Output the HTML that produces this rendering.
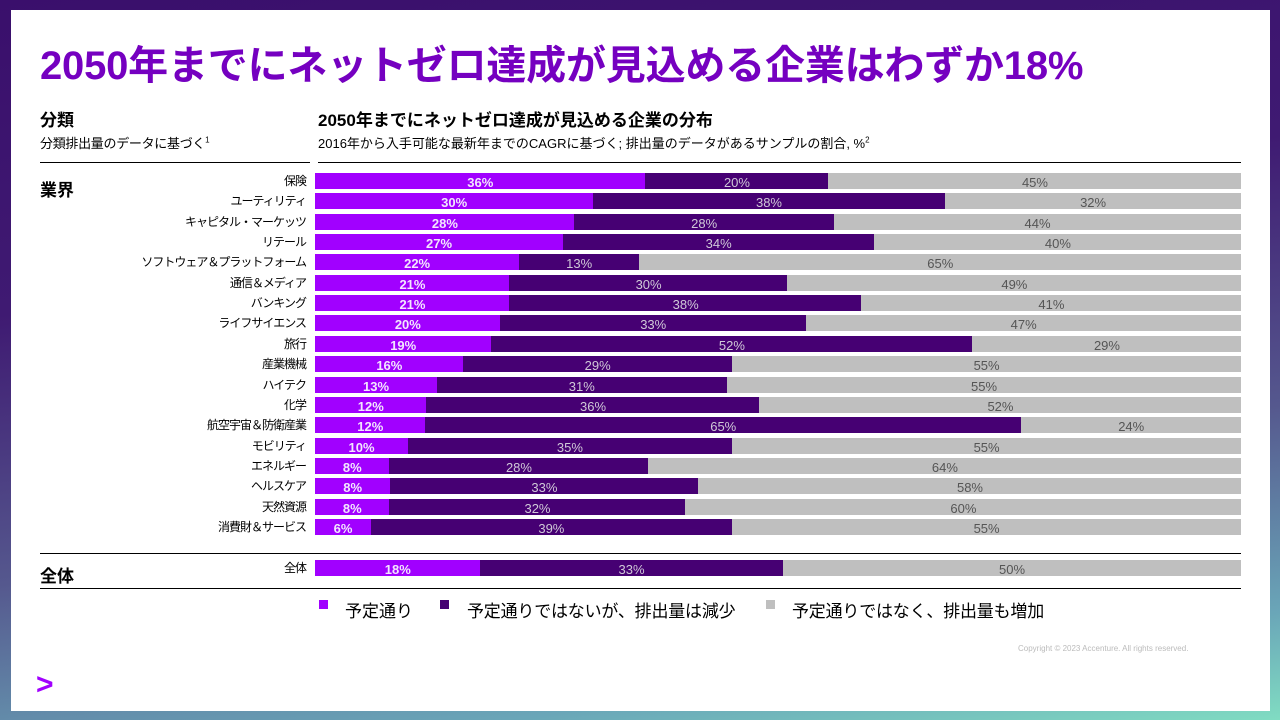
<!DOCTYPE html>
<html><head><meta charset="utf-8">
<style>
body{margin:0;width:1280px;height:720px;overflow:hidden;font-family:"Liberation Sans","Noto Sans CJK JP",sans-serif;}
#bg{position:absolute;left:0;top:0;width:1280px;height:720px;background:linear-gradient(172deg,#3a0f6c 0%,#3f1a72 35%,#55588e 65%,#6aa6b8 88%,#80dcc2 100%);}
#card{position:absolute;left:11px;top:10px;width:1259px;height:701px;background:#fff;}
.t{position:absolute;white-space:nowrap;}
</style></head><body>
<div id="bg"></div>
<div id="card"></div>
<div class="t" style="left:40px;top:33px;font-size:40px;font-weight:bold;color:#7500c0;letter-spacing:-0.2px">2050年までにネットゼロ達成が見込める企業はわずか18%</div>
<div class="t" style="left:40px;top:106px;font-size:17px;font-weight:bold;color:#000">分類</div>
<div class="t" style="left:40px;top:133px;font-size:13px;color:#000;letter-spacing:-0.3px">分類排出量のデータに基づく<sup style="font-size:8px">1</sup></div>
<div class="t" style="left:318px;top:106px;font-size:17px;font-weight:bold;color:#000">2050年までにネットゼロ達成が見込める企業の分布</div>
<div class="t" style="left:318px;top:133px;font-size:13px;color:#000">2016年から入手可能な最新年までのCAGRに基づく; 排出量のデータがあるサンプルの割合, %<sup style="font-size:8px">2</sup></div>
<div style="position:absolute;left:40px;top:162px;width:270px;height:1px;background:#000"></div>
<div style="position:absolute;left:318px;top:162px;width:923px;height:1px;background:#000"></div>
<div class="t" style="left:40px;top:176px;font-size:17px;font-weight:bold">業界</div>
<div style="position:absolute;left:40px;top:553px;width:1201px;height:1px;background:#000"></div>
<div style="position:absolute;left:40px;top:588px;width:1201px;height:1px;background:#000"></div>
<div class="t" style="left:40px;top:562px;font-size:17px;font-weight:bold">全体</div>
<div id="chart"></div>
<div>
<div style="position:absolute;left:319px;top:600px;width:9px;height:9px;background:#a100ff"></div>
<div class="t" style="left:345px;top:597px;font-size:17px">予定通り</div>
<div style="position:absolute;left:440px;top:600px;width:9px;height:9px;background:#460073"></div>
<div class="t" style="left:467px;top:597px;font-size:17px;letter-spacing:-0.2px">予定通りではないが、排出量は減少</div>
<div style="position:absolute;left:766px;top:600px;width:9px;height:9px;background:#bfbfbf"></div>
<div class="t" style="left:792px;top:597px;font-size:17px;letter-spacing:-0.2px">予定通りではなく、排出量も増加</div>
</div>
<div class="t" style="left:1018px;top:644px;font-size:8px;color:#bbb">Copyright © 2023 Accenture. All rights reserved.</div>
<div class="t" style="left:36px;top:670px;font-size:30px;font-weight:bold;color:#a100ff;line-height:30px">&gt;</div>
<script>
const categories=["保険","ユーティリティ","キャピタル・マーケッツ","リテール","ソフトウェア＆プラットフォーム","通信＆メディア","バンキング","ライフサイエンス","旅行","産業機械","ハイテク","化学","航空宇宙＆防衛産業","モビリティ","エネルギー","ヘルスケア","天然資源","消費財＆サービス","全体"];
const onTrack=[36,30,28,27,22,21,21,20,19,16,13,12,12,10,8,8,8,6,18];
const decreasing=[20,38,28,34,13,30,38,33,52,29,31,36,65,35,28,33,32,39,33];
const increasing=[45,32,44,40,65,49,41,47,29,55,55,52,24,55,64,58,60,55,50];
const X0=315,W=926,Y0=173,PITCH=20.35,BH=16,TOTAL_Y=560;
const chart=document.getElementById('chart');
const colors=['#a100ff','#460073','#bfbfbf'];
const txt=['#f3e6ff','#d0c8d8','#555'];
function yOf(i){return i===categories.length-1?TOTAL_Y:Y0+i*PITCH;}
categories.forEach((c,i)=>{
  const y=yOf(i);
  const lab=document.createElement('div');
  
  
  lab.className='t';
  lab.style.cssText=`right:${1280-306}px;top:${y}px;font-size:12px;line-height:17px;color:#000;letter-spacing:-1px`;
  lab.textContent=c;chart.appendChild(lab);
  const vals=[onTrack[i],decreasing[i],increasing[i]];
  const sum=vals[0]+vals[1]+vals[2];
  let x=X0;
  vals.forEach((v,k)=>{
    const w=v/sum*W;
    const s=document.createElement('div');
    
    
    s.style.cssText=`position:absolute;left:${x}px;top:${y}px;width:${w+0.5}px;height:${BH}px;background:${colors[k]};color:${txt[k]};font-size:13px;line-height:19px;text-align:center;overflow:hidden;white-space:nowrap;${k===0?'font-weight:bold;':''}`;
    s.textContent=v+'%';
    chart.appendChild(s);
    x+=w;
  });
});
</script>
</body></html>
